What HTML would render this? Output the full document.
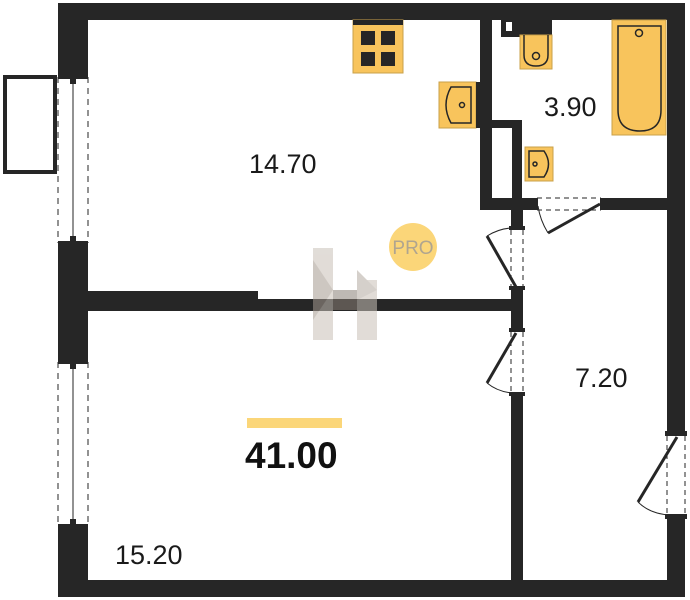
<!DOCTYPE html>
<html><head><style>
html,body{margin:0;padding:0;background:#fff}
svg{display:block}
text{font-family:"Liberation Sans",sans-serif}
</style></head><body>
<svg width="690" height="600" viewBox="0 0 690 600" xmlns="http://www.w3.org/2000/svg">
<rect width="690" height="600" fill="#fff"/>
<g fill="#262626">
<rect x="58" y="3" width="627" height="17"/>
<rect x="58" y="3" width="30" height="72"/>
<rect x="58" y="245" width="30" height="115"/>
<rect x="58" y="528" width="30" height="69"/>
<rect x="58" y="580" width="627" height="17"/>
<rect x="667" y="3" width="18" height="430"/>
<rect x="667" y="517" width="18" height="80"/>
<rect x="88" y="291" width="170" height="20"/>
<rect x="258" y="299" width="258" height="12"/>
<rect x="511" y="198" width="12" height="30"/>
<rect x="511" y="288" width="12" height="42"/>
<rect x="511" y="394" width="12" height="186"/>
<rect x="480" y="20" width="12" height="190"/>
<rect x="480" y="198" width="55" height="12"/>
<rect x="603" y="198" width="64" height="12"/>
<rect x="492" y="120" width="30" height="8"/>
<rect x="512" y="120" width="10" height="80"/>
<rect x="501" y="20" width="19" height="17"/>
<rect x="520" y="20" width="32" height="15"/>
</g>
<rect x="506" y="22" width="6" height="9" fill="#fff"/>
<g stroke="#262626" fill="none">
<line x1="58" y1="77" x2="58" y2="243" stroke-dasharray="6,5"/>
<line x1="88" y1="77" x2="88" y2="243" stroke-dasharray="6,5"/>
<line x1="73" y1="80" x2="73" y2="240" stroke-width="1"/>
<line x1="58" y1="362" x2="58" y2="526" stroke-dasharray="6,5"/>
<line x1="88" y1="362" x2="88" y2="526" stroke-dasharray="6,5"/>
<line x1="73" y1="365" x2="73" y2="523" stroke-width="1"/>
<rect x="5" y="77" width="50" height="95" stroke-width="4"/>
</g>
<g fill="#262626">
<rect x="58" y="75" width="30" height="4"/><rect x="70" y="79" width="6" height="5"/>
<rect x="58" y="241" width="30" height="4"/><rect x="70" y="236" width="6" height="5"/>
<rect x="58" y="360" width="30" height="4"/><rect x="70" y="364" width="6" height="5"/>
<rect x="58" y="524" width="30" height="4"/><rect x="70" y="519" width="6" height="5"/>
</g>
<g stroke="#262626" fill="none">
<line x1="511" y1="230" x2="511" y2="286" stroke-dasharray="5,4"/>
<line x1="523" y1="230" x2="523" y2="286" stroke-dasharray="5,4"/>
<line x1="516" y1="287" x2="487" y2="236" stroke-width="3"/>
<path d="M487 236 Q500 228 513 228" stroke-width="1"/>
<line x1="511" y1="332" x2="511" y2="392" stroke-dasharray="5,4"/>
<line x1="523" y1="332" x2="523" y2="392" stroke-dasharray="5,4"/>
<line x1="516" y1="333" x2="487" y2="383" stroke-width="3"/>
<path d="M487 383 Q498 392 513 393" stroke-width="1"/>
<line x1="537" y1="198" x2="601" y2="198" stroke-dasharray="5,4"/>
<line x1="537" y1="210" x2="601" y2="210" stroke-dasharray="5,4"/>
<line x1="600" y1="204" x2="548" y2="233" stroke-width="3"/>
<path d="M548 233 Q540 220 538 206" stroke-width="1"/>
<line x1="667" y1="436" x2="667" y2="515" stroke-dasharray="5,4"/>
<line x1="685" y1="436" x2="685" y2="515" stroke-dasharray="5,4"/>
<line x1="677" y1="437" x2="638" y2="502" stroke-width="3"/>
<path d="M638 502 Q650 514 670 515" stroke-width="1"/>
</g>
<g fill="#262626">
<rect x="509" y="226" width="16" height="4"/><rect x="509" y="286" width="16" height="4"/>
<rect x="509" y="328" width="16" height="4"/><rect x="509" y="392" width="16" height="4"/>
<rect x="533" y="198" width="5" height="12"/><rect x="600" y="198" width="5" height="12"/>
<rect x="665" y="431" width="22" height="5"/><rect x="665" y="514" width="22" height="5"/>
</g>
<g fill="#f8c45c" stroke="#c9a04a" stroke-width="1">
<rect x="353" y="20" width="50" height="53"/>
<rect x="439" y="82" width="37" height="46"/>
<rect x="520" y="35" width="32" height="34"/>
<rect x="612" y="20" width="54" height="115"/>
<rect x="525" y="147" width="28" height="34"/>
</g>
<rect x="353" y="20" width="50" height="5" fill="#262626"/>
<g fill="#262626">
<rect x="361" y="31" width="14" height="14"/><rect x="381" y="31" width="14" height="14"/>
<rect x="361" y="52" width="14" height="14"/><rect x="381" y="52" width="14" height="14"/>
<rect x="476" y="82" width="4" height="46"/>
</g>
<g fill="none" stroke="#262626" stroke-width="1.5">
<path d="M471 87 H451 Q441 105 451 123 H471 Z"/>
<circle cx="462" cy="105" r="2.5"/>
<path d="M524 35 V55 Q524 66 536 66 Q548 66 548 55 V35"/>
<circle cx="536" cy="56" r="3.5"/>
<path d="M618 26 H661 V110 Q661 131 640 131 Q618 131 618 110 Z"/>
<circle cx="639" cy="33" r="3.5"/>
<path d="M529 151 H544 Q553 164 544 177 H529 Z"/>
<circle cx="535" cy="164" r="2"/>
</g>
<g opacity="0.55">
<polygon points="313,248 333,248 333,340 313,340" fill="#c9c1b8"/>
<polygon points="357,280 377,280 377,340 357,340" fill="#c9c1b8"/>
<polygon points="313,260 333,290 313,320" fill="#a59a90"/>
<polygon points="333,290 357,290 357,310 333,310" fill="#8a8077"/>
<polygon points="357,270 377,290 357,300" fill="#b3aaa1"/>
</g>
<circle cx="413" cy="247" r="24" fill="#fbd679"/>
<text x="413" y="254" font-size="19" fill="#b0a58f" text-anchor="middle">PRO</text>
<text x="249" y="173" font-size="27" fill="#1a1a1a">14.70</text>
<text x="544" y="116" font-size="27" fill="#1a1a1a">3.90</text>
<text x="575" y="387" font-size="27" fill="#1a1a1a">7.20</text>
<text x="115" y="564" font-size="27" fill="#1a1a1a">15.20</text>
<rect x="247" y="418" width="95" height="10" fill="#fbd679"/>
<text x="245" y="468" font-size="37" font-weight="bold" fill="#111">41.00</text>
</svg>
</body></html>
